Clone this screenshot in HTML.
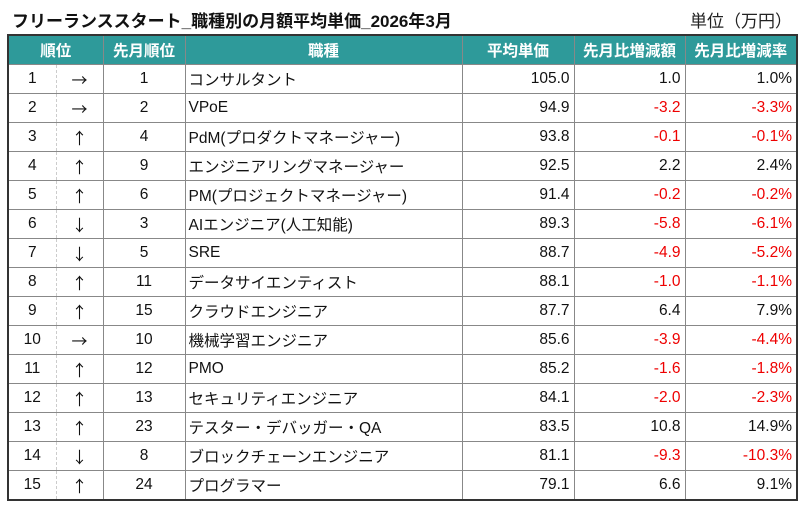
<!DOCTYPE html><html><head><meta charset="utf-8"><style>
body{margin:0;width:803px;height:507px;background:#fff;font-family:"Liberation Sans","Noto Sans CJK JP",sans-serif;position:relative;overflow:hidden}
.t{position:absolute;left:12px;top:7px;font-size:17px;font-weight:bold;color:#111}
.u{position:absolute;left:690px;top:7px;font-size:17px;color:#222}
table{position:absolute;left:7px;top:34px;border-collapse:collapse;table-layout:fixed;border:2px solid #333;font-size:15.5px;color:#111}
td,th{border:1.5px solid #888;padding:0 4px;height:28px;white-space:nowrap;overflow:hidden}
th{background:#2e9a9a;color:#fff;height:28px;font-weight:bold;text-align:center}
td.c{text-align:center}td.r{text-align:right}td.l{text-align:left;padding-left:3px}
td.a{border-left:1px dashed #ccc;font-family:"Noto Sans CJK JP",sans-serif;font-size:16px}td.rk{border-right:1px dashed #ccc}
.n{color:#e00}
</style></head><body>
<div class="t">フリーランススタート_職種別の月額平均単価_2026年3月</div>
<div class="u">単位（万円）</div>
<table>
<colgroup><col style="width:48px"><col style="width:47px"><col style="width:82px"><col style="width:277px"><col style="width:112px"><col style="width:111px"><col style="width:112px"></colgroup>
<tr><th colspan="2">順位</th><th>先月順位</th><th>職種</th><th>平均単価</th><th>先月比増減額</th><th>先月比増減率</th></tr>
<tr><td class="c rk">1</td><td class="c a">→</td><td class="c">1</td><td class="l">コンサルタント</td><td class="r">105.0</td><td class="r">1.0</td><td class="r">1.0%</td></tr>
<tr><td class="c rk">2</td><td class="c a">→</td><td class="c">2</td><td class="l">VPoE</td><td class="r">94.9</td><td class="r n">-3.2</td><td class="r n">-3.3%</td></tr>
<tr><td class="c rk">3</td><td class="c a">↑</td><td class="c">4</td><td class="l">PdM(プロダクトマネージャー)</td><td class="r">93.8</td><td class="r n">-0.1</td><td class="r n">-0.1%</td></tr>
<tr><td class="c rk">4</td><td class="c a">↑</td><td class="c">9</td><td class="l">エンジニアリングマネージャー</td><td class="r">92.5</td><td class="r">2.2</td><td class="r">2.4%</td></tr>
<tr><td class="c rk">5</td><td class="c a">↑</td><td class="c">6</td><td class="l">PM(プロジェクトマネージャー)</td><td class="r">91.4</td><td class="r n">-0.2</td><td class="r n">-0.2%</td></tr>
<tr><td class="c rk">6</td><td class="c a">↓</td><td class="c">3</td><td class="l">AIエンジニア(人工知能)</td><td class="r">89.3</td><td class="r n">-5.8</td><td class="r n">-6.1%</td></tr>
<tr><td class="c rk">7</td><td class="c a">↓</td><td class="c">5</td><td class="l">SRE</td><td class="r">88.7</td><td class="r n">-4.9</td><td class="r n">-5.2%</td></tr>
<tr><td class="c rk">8</td><td class="c a">↑</td><td class="c">11</td><td class="l">データサイエンティスト</td><td class="r">88.1</td><td class="r n">-1.0</td><td class="r n">-1.1%</td></tr>
<tr><td class="c rk">9</td><td class="c a">↑</td><td class="c">15</td><td class="l">クラウドエンジニア</td><td class="r">87.7</td><td class="r">6.4</td><td class="r">7.9%</td></tr>
<tr><td class="c rk">10</td><td class="c a">→</td><td class="c">10</td><td class="l">機械学習エンジニア</td><td class="r">85.6</td><td class="r n">-3.9</td><td class="r n">-4.4%</td></tr>
<tr><td class="c rk">11</td><td class="c a">↑</td><td class="c">12</td><td class="l">PMO</td><td class="r">85.2</td><td class="r n">-1.6</td><td class="r n">-1.8%</td></tr>
<tr><td class="c rk">12</td><td class="c a">↑</td><td class="c">13</td><td class="l">セキュリティエンジニア</td><td class="r">84.1</td><td class="r n">-2.0</td><td class="r n">-2.3%</td></tr>
<tr><td class="c rk">13</td><td class="c a">↑</td><td class="c">23</td><td class="l">テスター・デバッガー・QA</td><td class="r">83.5</td><td class="r">10.8</td><td class="r">14.9%</td></tr>
<tr><td class="c rk">14</td><td class="c a">↓</td><td class="c">8</td><td class="l">ブロックチェーンエンジニア</td><td class="r">81.1</td><td class="r n">-9.3</td><td class="r n">-10.3%</td></tr>
<tr><td class="c rk">15</td><td class="c a">↑</td><td class="c">24</td><td class="l">プログラマー</td><td class="r">79.1</td><td class="r">6.6</td><td class="r">9.1%</td></tr>
</table>
</body></html>
